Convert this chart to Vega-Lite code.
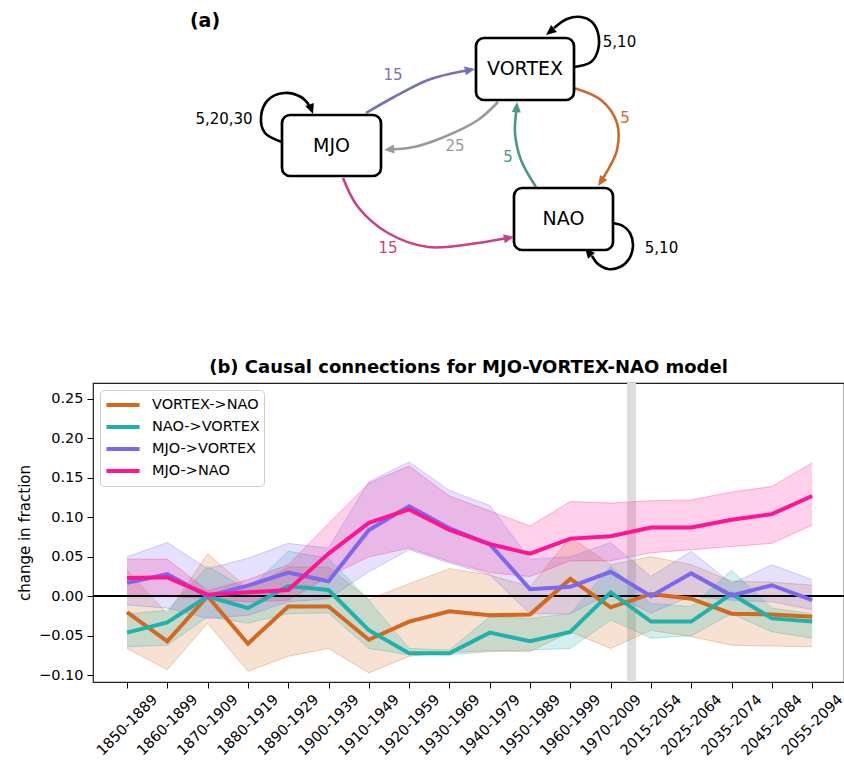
{
  "$schema": "https://vega.github.io/schema/vega-lite/v6.json",
  "padding": {"left": 16, "top": 0, "right": 0, "bottom": 0},
  "background": "white",
  "spacing": 18,
  "config": {"font": "DejaVu Sans", "view": {"stroke": null},
    "legend": {"title": null, "orient": "top-left", "offset": 7, "symbolType": "stroke", "symbolStrokeWidth": 4, "symbolSize": 1100, "symbolOpacity": 1, "labelFontSize": 14.5, "labelColor": "black", "labelFont": "DejaVu Sans", "strokeColor": "#cccccc", "fillColor": "#ffffff", "cornerRadius": 4, "padding": 4, "rowPadding": 0, "clipHeight": 22, "labelOffset": 10}},
  "resolve": {"scale": {"color": "independent"}, "legend": {"color": "independent"}},
  "datasets": {
    "dpaths": [
      {"e": "MJO->VORTEX", "k": 0, "x": 365, "y": 113}, {"e": "MJO->VORTEX", "k": 1, "x": 393, "y": 97}, {"e": "MJO->VORTEX", "k": 2, "x": 427, "y": 80}, {"e": "MJO->VORTEX", "k": 3, "x": 453, "y": 73}, {"e": "MJO->VORTEX", "k": 4, "x": 466, "y": 70.5},
      {"e": "VORTEX->MJO", "k": 0, "x": 497, "y": 102}, {"e": "VORTEX->MJO", "k": 1, "x": 477, "y": 120}, {"e": "VORTEX->MJO", "k": 2, "x": 443, "y": 137}, {"e": "VORTEX->MJO", "k": 3, "x": 413, "y": 147}, {"e": "VORTEX->MJO", "k": 4, "x": 391, "y": 149.3},
      {"e": "VORTEX->NAO", "k": 0, "x": 573, "y": 88}, {"e": "VORTEX->NAO", "k": 1, "x": 600, "y": 100}, {"e": "VORTEX->NAO", "k": 2, "x": 616, "y": 123}, {"e": "VORTEX->NAO", "k": 3, "x": 616, "y": 150}, {"e": "VORTEX->NAO", "k": 4, "x": 608, "y": 168}, {"e": "VORTEX->NAO", "k": 5, "x": 602, "y": 178}],
    "dpaths2": [
      {"e": "NAO->VORTEX", "k": 0, "x": 535, "y": 187}, {"e": "NAO->VORTEX", "k": 1, "x": 520, "y": 160}, {"e": "NAO->VORTEX", "k": 2, "x": 514, "y": 133}, {"e": "NAO->VORTEX", "k": 3, "x": 515.5, "y": 110},
      {"e": "MJO->NAO", "k": 0, "x": 342, "y": 178}, {"e": "MJO->NAO", "k": 1, "x": 357, "y": 207}, {"e": "MJO->NAO", "k": 2, "x": 387, "y": 233}, {"e": "MJO->NAO", "k": 3, "x": 427, "y": 247}, {"e": "MJO->NAO", "k": 4, "x": 477, "y": 243}, {"e": "MJO->NAO", "k": 5, "x": 505, "y": 238.3},
      {"e": "MJO->MJO", "k": 0, "x": 281, "y": 142}, {"e": "MJO->MJO", "k": 1, "x": 264, "y": 133}, {"e": "MJO->MJO", "k": 2, "x": 260, "y": 117}, {"e": "MJO->MJO", "k": 3, "x": 267, "y": 100}, {"e": "MJO->MJO", "k": 4, "x": 283, "y": 93}, {"e": "MJO->MJO", "k": 5, "x": 300, "y": 97}, {"e": "MJO->MJO", "k": 6, "x": 308, "y": 105},
      {"e": "VORTEX->VORTEX", "k": 0, "x": 573, "y": 67}, {"e": "VORTEX->VORTEX", "k": 1, "x": 590, "y": 62}, {"e": "VORTEX->VORTEX", "k": 2, "x": 597, "y": 50}, {"e": "VORTEX->VORTEX", "k": 3, "x": 597, "y": 33}, {"e": "VORTEX->VORTEX", "k": 4, "x": 591, "y": 22}, {"e": "VORTEX->VORTEX", "k": 5, "x": 580, "y": 17}, {"e": "VORTEX->VORTEX", "k": 6, "x": 566, "y": 19}, {"e": "VORTEX->VORTEX", "k": 7, "x": 553, "y": 28},
      {"e": "NAO->NAO", "k": 0, "x": 612, "y": 223}, {"e": "NAO->NAO", "k": 1, "x": 622, "y": 226}, {"e": "NAO->NAO", "k": 2, "x": 629, "y": 233}, {"e": "NAO->NAO", "k": 3, "x": 632, "y": 246}, {"e": "NAO->NAO", "k": 4, "x": 628, "y": 259}, {"e": "NAO->NAO", "k": 5, "x": 619, "y": 267}, {"e": "NAO->NAO", "k": 6, "x": 607, "y": 269}, {"e": "NAO->NAO", "k": 7, "x": 597, "y": 264}, {"e": "NAO->NAO", "k": 8, "x": 591, "y": 256}
    ],
    "dheads": [
      {"e": "MJO->VORTEX", "x": 468.1, "y": 70.1, "a": 79},
      {"e": "VORTEX->MJO", "x": 389, "y": 149.4, "a": 264},
      {"e": "VORTEX->NAO", "x": 600.4, "y": 181, "a": 214},
      {"e": "NAO->VORTEX", "x": 515.6, "y": 108, "a": 4},
      {"e": "MJO->NAO", "x": 507.1, "y": 238, "a": 80},
      {"e": "MJO->MJO", "x": 310, "y": 108.4, "a": 160},
      {"e": "VORTEX->VORTEX", "x": 549.7, "y": 31.2, "a": 231},
      {"e": "NAO->NAO", "x": 587.8, "y": 252.6, "a": 320}
    ],
    "dnodes": [
      {"name": "VORTEX", "x1": 475, "x2": 573, "y1": 38, "y2": 100, "tx": 524, "ty": 69},
      {"name": "MJO", "x1": 281, "x2": 380, "y1": 115, "y2": 176, "tx": 330.5, "ty": 145.5},
      {"name": "NAO", "x1": 513, "x2": 612, "y1": 188, "y2": 250, "tx": 562.5, "ty": 219}
    ],
    "dlabels": [
      {"e": "MJO->VORTEX", "t": "15", "x": 392, "y": 75},
      {"e": "VORTEX->MJO", "t": "25", "x": 454, "y": 146},
      {"e": "VORTEX->NAO", "t": "5", "x": 624, "y": 118},
      {"e": "NAO->VORTEX", "t": "5", "x": 507, "y": 157},
      {"e": "MJO->NAO", "t": "15", "x": 387, "y": 248},
      {"e": "MJO->MJO", "t": "5,20,30", "x": 223, "y": 118.5},
      {"e": "VORTEX->VORTEX", "t": "5,10", "x": 618.5, "y": 42},
      {"e": "NAO->NAO", "t": "5,10", "x": 660.5, "y": 247.5}
    ],
    "series": [
      {"s": "VORTEX->NAO", "i": 0, "v": -0.020, "lo": -0.066, "hi": 0.033},
      {"s": "VORTEX->NAO", "i": 1, "v": -0.057, "lo": -0.093, "hi": -0.022},
      {"s": "VORTEX->NAO", "i": 2, "v": 0.000, "lo": -0.034, "hi": 0.054},
      {"s": "VORTEX->NAO", "i": 3, "v": -0.060, "lo": -0.095, "hi": 0.010},
      {"s": "VORTEX->NAO", "i": 4, "v": -0.013, "lo": -0.076, "hi": 0.037},
      {"s": "VORTEX->NAO", "i": 5, "v": -0.013, "lo": -0.066, "hi": 0.037},
      {"s": "VORTEX->NAO", "i": 6, "v": -0.055, "lo": -0.097, "hi": -0.004},
      {"s": "VORTEX->NAO", "i": 7, "v": -0.032, "lo": -0.076, "hi": 0.016},
      {"s": "VORTEX->NAO", "i": 8, "v": -0.019, "lo": -0.071, "hi": 0.035},
      {"s": "VORTEX->NAO", "i": 9, "v": -0.024, "lo": -0.069, "hi": 0.027},
      {"s": "VORTEX->NAO", "i": 10, "v": -0.023, "lo": -0.070, "hi": 0.012},
      {"s": "VORTEX->NAO", "i": 11, "v": 0.022, "lo": -0.045, "hi": 0.075},
      {"s": "VORTEX->NAO", "i": 12, "v": -0.014, "lo": -0.066, "hi": 0.040},
      {"s": "VORTEX->NAO", "i": 13, "v": 0.003, "lo": -0.043, "hi": 0.050},
      {"s": "VORTEX->NAO", "i": 14, "v": -0.003, "lo": -0.051, "hi": 0.040},
      {"s": "VORTEX->NAO", "i": 15, "v": -0.022, "lo": -0.062, "hi": 0.019},
      {"s": "VORTEX->NAO", "i": 16, "v": -0.023, "lo": -0.063, "hi": 0.018},
      {"s": "VORTEX->NAO", "i": 17, "v": -0.026, "lo": -0.064, "hi": 0.014},
      {"s": "NAO->VORTEX", "i": 0, "v": -0.046, "lo": -0.064, "hi": -0.022},
      {"s": "NAO->VORTEX", "i": 1, "v": -0.033, "lo": -0.062, "hi": -0.018},
      {"s": "NAO->VORTEX", "i": 2, "v": 0.000, "lo": -0.026, "hi": 0.038},
      {"s": "NAO->VORTEX", "i": 3, "v": -0.015, "lo": -0.034, "hi": 0.008},
      {"s": "NAO->VORTEX", "i": 4, "v": 0.013, "lo": -0.022, "hi": 0.057},
      {"s": "NAO->VORTEX", "i": 5, "v": 0.008, "lo": -0.021, "hi": 0.048},
      {"s": "NAO->VORTEX", "i": 6, "v": -0.043, "lo": -0.066, "hi": -0.005},
      {"s": "NAO->VORTEX", "i": 7, "v": -0.072, "lo": -0.074, "hi": -0.066},
      {"s": "NAO->VORTEX", "i": 8, "v": -0.072, "lo": -0.074, "hi": -0.068},
      {"s": "NAO->VORTEX", "i": 9, "v": -0.046, "lo": -0.070, "hi": -0.026},
      {"s": "NAO->VORTEX", "i": 10, "v": -0.057, "lo": -0.068, "hi": -0.028},
      {"s": "NAO->VORTEX", "i": 11, "v": -0.045, "lo": -0.066, "hi": -0.022},
      {"s": "NAO->VORTEX", "i": 12, "v": 0.005, "lo": -0.030, "hi": 0.038},
      {"s": "NAO->VORTEX", "i": 13, "v": -0.032, "lo": -0.053, "hi": -0.009},
      {"s": "NAO->VORTEX", "i": 14, "v": -0.032, "lo": -0.050, "hi": -0.013},
      {"s": "NAO->VORTEX", "i": 15, "v": 0.003, "lo": -0.022, "hi": 0.033},
      {"s": "NAO->VORTEX", "i": 16, "v": -0.028, "lo": -0.045, "hi": -0.015},
      {"s": "NAO->VORTEX", "i": 17, "v": -0.032, "lo": -0.053, "hi": -0.022},
      {"s": "MJO->VORTEX", "i": 0, "v": 0.017, "lo": -0.011, "hi": 0.050},
      {"s": "MJO->VORTEX", "i": 1, "v": 0.028, "lo": -0.015, "hi": 0.068},
      {"s": "MJO->VORTEX", "i": 2, "v": 0.000, "lo": -0.028, "hi": 0.035},
      {"s": "MJO->VORTEX", "i": 3, "v": 0.0135, "lo": -0.024, "hi": 0.048},
      {"s": "MJO->VORTEX", "i": 4, "v": 0.030, "lo": -0.007, "hi": 0.067},
      {"s": "MJO->VORTEX", "i": 5, "v": 0.019, "lo": -0.003, "hi": 0.061},
      {"s": "MJO->VORTEX", "i": 6, "v": 0.084, "lo": 0.031, "hi": 0.145},
      {"s": "MJO->VORTEX", "i": 7, "v": 0.114, "lo": 0.059, "hi": 0.170},
      {"s": "MJO->VORTEX", "i": 8, "v": 0.086, "lo": 0.042, "hi": 0.134},
      {"s": "MJO->VORTEX", "i": 9, "v": 0.066, "lo": 0.027, "hi": 0.115},
      {"s": "MJO->VORTEX", "i": 10, "v": 0.009, "lo": -0.022, "hi": 0.047},
      {"s": "MJO->VORTEX", "i": 11, "v": 0.012, "lo": -0.022, "hi": 0.050},
      {"s": "MJO->VORTEX", "i": 12, "v": 0.031, "lo": 0.004, "hi": 0.068},
      {"s": "MJO->VORTEX", "i": 13, "v": 0.000, "lo": -0.021, "hi": 0.025},
      {"s": "MJO->VORTEX", "i": 14, "v": 0.029, "lo": 0.000, "hi": 0.057},
      {"s": "MJO->VORTEX", "i": 15, "v": 0.001, "lo": -0.005, "hi": 0.016},
      {"s": "MJO->VORTEX", "i": 16, "v": 0.014, "lo": -0.007, "hi": 0.040},
      {"s": "MJO->VORTEX", "i": 17, "v": -0.005, "lo": -0.017, "hi": 0.021},
      {"s": "MJO->NAO", "i": 0, "v": 0.023, "lo": 0.000, "hi": 0.047},
      {"s": "MJO->NAO", "i": 1, "v": 0.024, "lo": 0.000, "hi": 0.047},
      {"s": "MJO->NAO", "i": 2, "v": 0.002, "lo": -0.003, "hi": 0.007},
      {"s": "MJO->NAO", "i": 3, "v": 0.005, "lo": -0.007, "hi": 0.021},
      {"s": "MJO->NAO", "i": 4, "v": 0.008, "lo": -0.005, "hi": 0.040},
      {"s": "MJO->NAO", "i": 5, "v": 0.054, "lo": 0.025, "hi": 0.092},
      {"s": "MJO->NAO", "i": 6, "v": 0.093, "lo": 0.050, "hi": 0.143},
      {"s": "MJO->NAO", "i": 7, "v": 0.110, "lo": 0.061, "hi": 0.165},
      {"s": "MJO->NAO", "i": 8, "v": 0.084, "lo": 0.044, "hi": 0.127},
      {"s": "MJO->NAO", "i": 9, "v": 0.066, "lo": 0.030, "hi": 0.108},
      {"s": "MJO->NAO", "i": 10, "v": 0.054, "lo": 0.025, "hi": 0.089},
      {"s": "MJO->NAO", "i": 11, "v": 0.073, "lo": 0.045, "hi": 0.120},
      {"s": "MJO->NAO", "i": 12, "v": 0.076, "lo": 0.045, "hi": 0.118},
      {"s": "MJO->NAO", "i": 13, "v": 0.087, "lo": 0.055, "hi": 0.121},
      {"s": "MJO->NAO", "i": 14, "v": 0.087, "lo": 0.059, "hi": 0.122},
      {"s": "MJO->NAO", "i": 15, "v": 0.097, "lo": 0.063, "hi": 0.132},
      {"s": "MJO->NAO", "i": 16, "v": 0.104, "lo": 0.067, "hi": 0.139},
      {"s": "MJO->NAO", "i": 17, "v": 0.127, "lo": 0.090, "hi": 0.169}
    ]
  },
  "vconcat": [
    {
      "width": 751,
      "height": 340,
      "view": {"stroke": null},
      "layer": [
        {
          "data": {"name": "dpaths"},
          "mark": {"type": "line", "interpolate": "catmull-rom", "strokeWidth": 2.6},
          "encoding": {
            "x": {"field": "x", "type": "quantitative", "scale": {"domain": [92, 843], "nice": false, "zero": false}, "axis": null},
            "y": {"field": "y", "type": "quantitative", "scale": {"domain": [0, 340], "nice": false, "zero": false, "reverse": true}, "axis": null},
            "stroke": {"field": "e", "type": "nominal", "legend": null, "scale": {"domain": ["MJO->VORTEX", "VORTEX->MJO", "VORTEX->NAO", "NAO->VORTEX", "MJO->NAO", "MJO->MJO", "VORTEX->VORTEX", "NAO->NAO"], "range": ["#7272b8", "#999999", "#cc6a2b", "#4a9a78", "#c9418a", "#000000", "#000000", "#000000"]}},
            "order": {"field": "k", "type": "quantitative"}
          }
        },
        {
          "data": {"name": "dpaths2"},
          "mark": {"type": "line", "interpolate": "catmull-rom", "strokeWidth": 2.6},
          "encoding": {
            "x": {"field": "x", "type": "quantitative"},
            "y": {"field": "y", "type": "quantitative"},
            "stroke": {"field": "e", "type": "nominal", "legend": null},
            "order": {"field": "k", "type": "quantitative"}
          }
        },
        {
          "data": {"name": "dheads"},
          "mark": {"type": "point", "shape": "M0,-1L0.75,0.7L-0.75,0.7Z", "filled": true, "size": 144, "opacity": 1, "strokeWidth": 0},
          "encoding": {
            "x": {"field": "x", "type": "quantitative"},
            "y": {"field": "y", "type": "quantitative"},
            "fill": {"field": "e", "type": "nominal", "legend": null, "scale": {"domain": ["MJO->VORTEX", "VORTEX->MJO", "VORTEX->NAO", "NAO->VORTEX", "MJO->NAO", "MJO->MJO", "VORTEX->VORTEX", "NAO->NAO"], "range": ["#7272b8", "#999999", "#cc6a2b", "#4a9a78", "#c9418a", "#000000", "#000000", "#000000"]}},
            "angle": {"field": "a", "type": "quantitative", "scale": null}
          }
        },
        {
          "data": {"name": "dnodes"},
          "mark": {"type": "rect", "fill": "white", "stroke": "black", "strokeWidth": 2.7, "cornerRadius": 8},
          "encoding": {
            "x": {"field": "x1", "type": "quantitative"},
            "x2": {"field": "x2"},
            "y": {"field": "y1", "type": "quantitative"},
            "y2": {"field": "y2"}
          }
        },
        {
          "data": {"name": "dnodes"},
          "mark": {"type": "text", "fontSize": 19, "font": "DejaVu Sans", "fill": "black"},
          "encoding": {
            "x": {"field": "tx", "type": "quantitative"},
            "y": {"field": "ty", "type": "quantitative"},
            "text": {"field": "name"}
          }
        },
        {
          "data": {"name": "dlabels"},
          "mark": {"type": "text", "fontSize": 15, "font": "DejaVu Sans"},
          "encoding": {
            "x": {"field": "x", "type": "quantitative"},
            "y": {"field": "y", "type": "quantitative"},
            "text": {"field": "t"},
            "fill": {"field": "e", "type": "nominal", "legend": null}
          }
        },
        {
          "data": {"values": [{"t": "(a)", "x": 204, "y": 21}]},
          "mark": {"type": "text", "fontSize": 19, "fontWeight": "bold", "font": "DejaVu Sans", "fill": "black"},
          "encoding": {
            "x": {"field": "x", "type": "quantitative"},
            "y": {"field": "y", "type": "quantitative"},
            "text": {"field": "t"}
          }
        }
      ]
    },
    {
      "width": 751,
      "height": 299,
      "title": {"text": "(b) Causal connections for MJO-VORTEX-NAO model", "fontSize": 18, "fontWeight": "bold", "font": "DejaVu Sans", "offset": 6, "color": "black", "anchor": "middle"},
      "view": {"stroke": "#222222", "strokeWidth": 1.2},
      "data": {"name": "series"},
      "layer": [
        {
          "mark": {"type": "rect", "fill": "#dddddd", "opacity": 0.9},
          "encoding": {
            "x": {"datum": 12.42, "type": "quantitative", "scale": {"domain": [-0.844, 17.79], "nice": false, "zero": false},
              "axis": {"values": [0, 1, 2, 3, 4, 5, 6, 7, 8, 9, 10, 11, 12, 13, 14, 15, 16, 17], "labelExpr": "['1850-1889','1860-1899','1870-1909','1880-1919','1890-1929','1900-1939','1910-1949','1920-1959','1930-1969','1940-1979','1950-1989','1960-1999','1970-2009','2015-2054','2025-2064','2035-2074','2045-2084','2055-2094'][datum.value]", "labelAngle": -45, "labelAlign": "center", "labelBaseline": "middle", "labelPadding": 37, "tickSize": 6, "tickColor": "black", "labelFontSize": 14.5, "labelColor": "black", "labelFont": "DejaVu Sans", "domain": false, "grid": false, "title": null, "labelOverlap": false, "labelFlush": false}},
            "x2": {"datum": 12.61}
          }
        },
        {
          "mark": {"type": "area", "fillOpacity": 0.2, "strokeOpacity": 0.3, "strokeWidth": 1},
          "encoding": {
            "x": {"field": "i", "type": "quantitative"},
            "y": {"field": "lo", "type": "quantitative", "scale": {"domain": [-0.1085, 0.27], "nice": false, "zero": false},
              "axis": {"values": [-0.1, -0.05, 0, 0.05, 0.1, 0.15, 0.2, 0.25], "format": ".2f", "title": "change in fraction", "titleFontSize": 15, "titleFontWeight": "normal", "titleColor": "black", "titleFont": "DejaVu Sans", "labelFontSize": 14.5, "labelColor": "black", "labelFont": "DejaVu Sans", "tickSize": 6, "tickColor": "black", "domain": false, "grid": false, "labelPadding": 4, "titlePadding": 6}},
            "y2": {"field": "hi"},
            "color": {"field": "s", "type": "nominal", "sort": null, "scale": {"domain": ["VORTEX->NAO", "NAO->VORTEX", "MJO->VORTEX", "MJO->NAO"], "range": ["#d2691e", "#20b2aa", "#7b68ee", "#ff1493"]},
              "legend": {"symbolType": "stroke", "symbolStrokeWidth": 4, "symbolSize": 1100, "labelFontSize": 14.5, "rowPadding": 0, "clipHeight": 22, "labelOffset": 10, "encode": {"symbols": {"update": {"opacity": {"value": 1}, "strokeOpacity": {"value": 1}, "fillOpacity": {"value": 1}, "strokeWidth": {"value": 4}}}}}}
          }
        },
        {
          "mark": {"type": "line", "strokeWidth": 1, "opacity": 0.3},
          "encoding": {
            "x": {"field": "i", "type": "quantitative"},
            "y": {"field": "lo", "type": "quantitative"},
            "color": {"field": "s", "type": "nominal", "sort": null}
          }
        },
        {
          "mark": {"type": "line", "strokeWidth": 1, "opacity": 0.3},
          "encoding": {
            "x": {"field": "i", "type": "quantitative"},
            "y": {"field": "hi", "type": "quantitative"},
            "color": {"field": "s", "type": "nominal", "sort": null}
          }
        },
        {
          "mark": {"type": "rule", "stroke": "black", "strokeWidth": 1.6},
          "encoding": {"y": {"datum": 0, "type": "quantitative"}}
        },
        {
          "mark": {"type": "line", "strokeWidth": 4},
          "encoding": {
            "x": {"field": "i", "type": "quantitative"},
            "y": {"field": "v", "type": "quantitative"},
            "color": {"field": "s", "type": "nominal", "sort": null,
              "legend": {"symbolType": "stroke", "symbolStrokeWidth": 4, "symbolSize": 1100, "labelFontSize": 14.5, "rowPadding": 0, "clipHeight": 22, "labelOffset": 10, "encode": {"symbols": {"update": {"opacity": {"value": 1}, "strokeOpacity": {"value": 1}, "fillOpacity": {"value": 1}, "strokeWidth": {"value": 4}}}}}}
          }
        }
      ]
    }
  ]
}
